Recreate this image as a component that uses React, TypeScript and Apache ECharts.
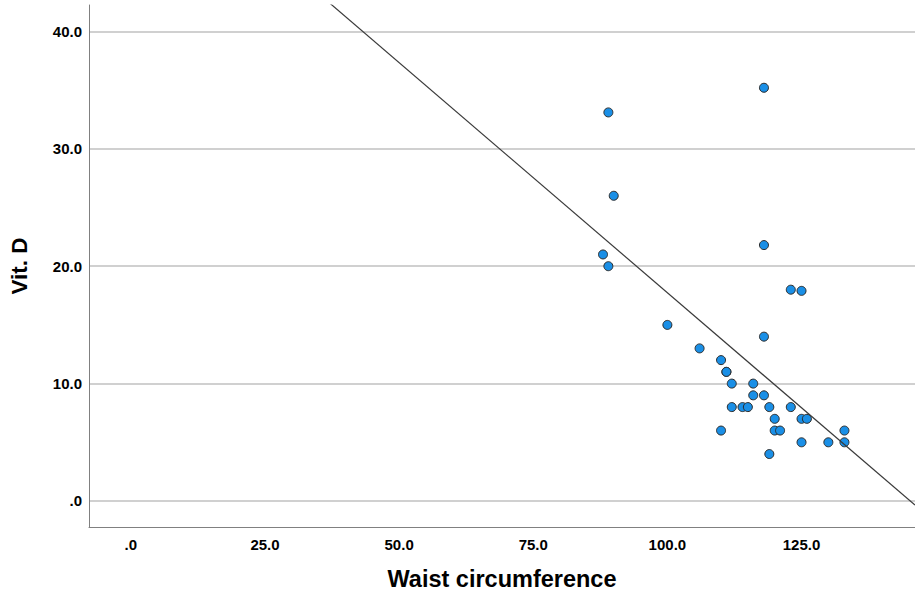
import React, { useEffect, useRef } from "react";
import * as echarts from "echarts";

// Waist circumference (x) and Vit. D (y)
const waist: number[] = [
  89, 118, 90, 88, 89, 118, 100, 118, 106, 110, 111, 111, 112, 116, 116, 118,
  112, 114, 115, 119, 123, 120, 125, 126, 110, 120, 121, 133, 125, 130, 133,
  119, 123, 125,
];
const vitD: number[] = [
  33.1, 35.2, 26, 21, 20, 21.8, 15, 14, 13, 12, 11, 11, 10, 10, 9, 9,
  8, 8, 8, 8, 8, 7, 7, 7, 6, 6, 6, 6, 5, 5, 5,
  4, 18, 17.9,
];

// Fit line drawn in the chart: y = intercept + slope * x
const fitIntercept = 56.94;
const fitSlope = -0.392;

const xTicks: number[] = [0, 25, 50, 75, 100, 125];
const yTicks: number[] = [0, 10, 20, 30, 40];
const xMin = -7.8;
const xMax = 146.15;
const yMin = -2.215;
const yMax = 42.25;

const fmt = (v: number) => (v === 0 ? ".0" : v.toFixed(1));

export default function App() {
  const ref = useRef<HTMLDivElement>(null);
  useEffect(() => {
    if (!ref.current) return;
    const chart = echarts.init(ref.current, null, { renderer: "svg" });
    const points = waist.map((x, i) => [x, vitD[i]]);
    const fitData = [
      [xMin, fitIntercept + fitSlope * xMin],
      [xMax, fitIntercept + fitSlope * xMax],
    ];
    const font = "'Liberation Sans', Arial, sans-serif";
    chart.setOption({
      animation: false,
      backgroundColor: "#ffffff",
      grid: { left: 86, top: 5, right: 0, bottom: 74, containLabel: false },
      xAxis: {
        type: "value",
        min: xMin,
        max: xMax,
        name: "Waist circumference",
        nameLocation: "middle",
        nameGap: 40,
        nameTextStyle: { fontFamily: font, fontWeight: "bold", fontSize: 23.5, color: "#000" },
        axisLine: { show: true, onZero: false, lineStyle: { color: "#808080", width: 1 } },
        axisTick: { show: false, customValues: xTicks },
        axisLabel: {
          customValues: xTicks,
          formatter: fmt,
          margin: 10,
          fontFamily: font,
          fontWeight: "bold",
          fontSize: 15,
          color: "#000",
        },
        splitLine: { show: false },
      },
      yAxis: {
        type: "value",
        min: yMin,
        max: yMax,
        name: "Vit. D",
        nameLocation: "middle",
        nameGap: 58,
        nameTextStyle: { fontFamily: font, fontWeight: "bold", fontSize: 22.5, color: "#000" },
        axisLine: { show: true, onZero: false, lineStyle: { color: "#808080", width: 1 } },
        axisTick: { show: false, customValues: yTicks },
        axisLabel: {
          customValues: yTicks,
          formatter: fmt,
          margin: 7,
          fontFamily: font,
          fontWeight: "bold",
          fontSize: 15,
          color: "#000",
        },
        splitLine: { show: true, lineStyle: { color: "#c0c0c0", width: 1.6 } },
      },
      series: [
        {
          type: "scatter",
          data: points,
          symbol: "circle",
          symbolSize: 9,
          itemStyle: { color: "#1a8fe6", borderColor: "#2b2b2b", borderWidth: 1, opacity: 1 },
          silent: true,
          z: 2,
        },
        {
          type: "line",
          data: fitData,
          showSymbol: false,
          symbol: "none",
          clip: true,
          lineStyle: { color: "#3a3a3a", width: 1.2 },
          silent: true,
          z: 3,
        },
      ],
    });
    return () => chart.dispose();
  }, []);
  return (
    <div
      ref={ref}
      style={{ position: "fixed", left: 0, top: 0, width: 915, height: 601 }}
    />
  );
}
